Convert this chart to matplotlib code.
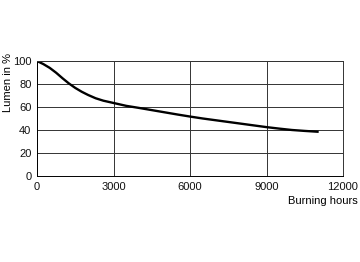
import matplotlib
matplotlib.use("Agg")
import matplotlib.pyplot as plt
import numpy as np

hours = [0, 250, 500, 750, 1000, 1250, 1500, 1750, 2000, 2300, 2600, 3000, 3500, 4000, 4500, 5000, 5500, 6000, 6500, 7000, 7500, 8000, 8500, 9000, 9500, 10000, 10500, 11000]
lumen = [100, 97.3, 94, 89.8, 85, 80.5, 76.6, 73.3, 70.5, 67.6, 65.5, 63.5, 61, 59.2, 57.3, 55.4, 53.5, 51.7, 50, 48.5, 47, 45.5, 44, 42.5, 41.2, 40, 39.2, 38.5]
xticks = [0, 3000, 6000, 9000, 12000]
yticks = [0, 20, 40, 60, 80, 100]

plt.rcParams['font.family'] = ['Liberation Sans', 'DejaVu Sans']
fig = plt.figure(figsize=(3.6, 2.62), dpi=100)
ax = fig.add_axes([37/360, 1-176/262, 306/360, 115/262])
ax.plot(hours, lumen, color='black', lw=1.7, solid_joinstyle='round')
ax.set_xlim(0, 12000)
ax.set_ylim(0, 100)
ax.set_xticks(xticks)
ax.set_yticks(yticks)
ax.grid(True, color='#333333', lw=0.7)
for s in ax.spines.values():
    s.set_color('#333333')
    s.set_linewidth(0.7)
ax.spines['left'].set_color('black')
ax.spines['bottom'].set_color('black')
ax.tick_params(length=0, labelsize=8, pad=4, colors='#111111')
fig.text(8/360, 1-83/262, 'Lumen in %', fontsize=8, rotation=90, ha='center', va='center')
fig.text(358/360, 1-201/262, 'Burning hours', fontsize=8, ha='right', va='center')
fig.savefig('out.png', dpi=100)
